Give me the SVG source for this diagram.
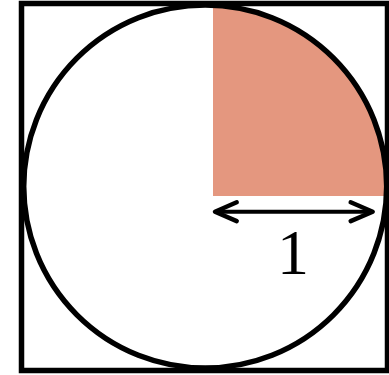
<svg xmlns="http://www.w3.org/2000/svg" width="389" height="375" viewBox="0 0 389 375">
  <style>
    .ln { fill: none; stroke: #000; stroke-width: 5.5; }
    .arr { fill: none; stroke: #000; stroke-width: 4.5; stroke-linecap: round; stroke-linejoin: round; }
  </style>
  <rect x="0" y="0" width="389" height="375" fill="#fff"/>
  <g id="quarter">
    <path d="M213 196 V5.1 A181.5 181.5 0 0 1 386.5 196 Z" fill="#E4977F"/>
  </g>
  <g id="square">
    <rect class="ln" x="21.5" y="3.5" width="366" height="367"/>
  </g>
  <g id="circle">
    <circle class="ln" cx="205.2" cy="186.5" r="181.5"/>
  </g>
  <g id="connectors">
    <line x1="216" y1="211.7" x2="371.5" y2="211.7" stroke="#000" stroke-width="4"/>
    <polyline class="arr" points="236.7,202.3 215,211.7 236.7,221.1"/>
    <polyline class="arr" points="350.7,202.3 372.7,211.7 350.7,221.1"/>
  </g>
  <g id="label">
    <text x="293" y="274" font-family="Liberation Serif, serif" font-size="64" text-anchor="middle">1</text>
  </g>
</svg>
